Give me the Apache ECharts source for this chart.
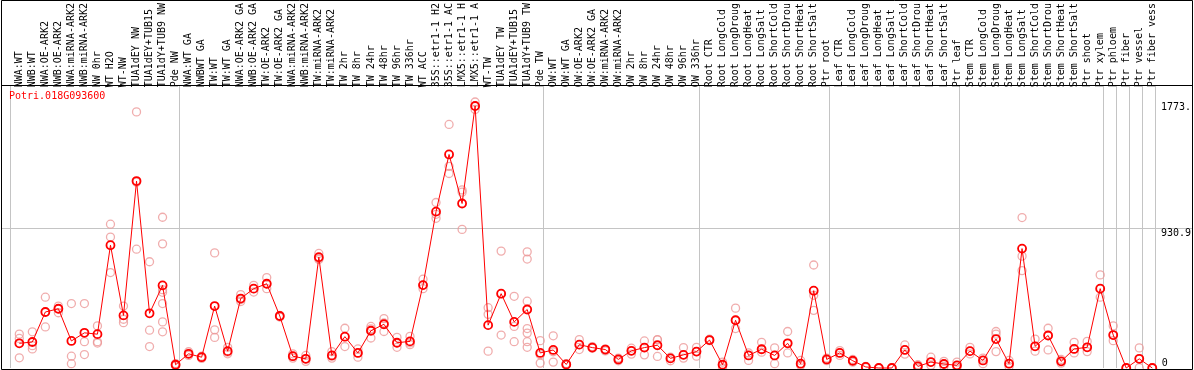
<!DOCTYPE html>
<html><head><meta charset="utf-8">
<script src="https://cdn.jsdelivr.net/npm/echarts@6/dist/echarts.min.js"></script>
<style>html,body{margin:0;padding:0;background:#fff}#c{width:1194px;height:370px}</style>
</head><body><div id="c"></div><script>
const categories = [
 'NWA:WT','NWB:WT','NWA:OE-ARK2','NWB:OE-ARK2','NWA:miRNA-ARK2','NWB:miRNA-ARK2','NW 0hr','WT H2O','WT-NW','TUA1dEY NW','TUA1dEY+TUB15','TUA1dY+TUB9 NW','Pde NW',
 'NWA:WT GA','NWBWT GA','TW:WT','TW:WT GA','NWA:OE-ARK2 GA','NWB:OE-ARK2 GA','TW:OE-ARK2','TW:OE-ARK2 GA','NWA:miRNA-ARK2','NWB:miRNA-ARK2','TW:miRNA-ARK2','TW:miRNA-ARK2','TW 2hr','TW 8hr','TW 24hr','TW 48hr','TW 96hr','TW 336hr','WT ACC','35S::etr1-1 H2','35S::etr1-1 AC','LMX5::etr1-1 H','LMX5::etr1-1 A','WT-TW','TUA1dEY TW','TUA1dEY+TUB15','TUA1dY+TUB9 TW','Pde TW',
 'OW:WT','OW:WT GA','OW:OE-ARK2','OW:OE-ARK2 GA','OW:miRNA-ARK2','OW:miRNA-ARK2','OW 2hr','OW 8hr','OW 24hr','OW 48hr','OW 96hr','OW 336hr',
 'Root CTR','Root LongCold','Root LongDroug','Root LongHeat','Root LongSalt','Root ShortCold','Root ShortDrou','Root ShortHeat','Root ShortSalt','Ptr root',
 'Leaf CTR','Leaf LongCold','Leaf LongDroug','Leaf LongHeat','Leaf LongSalt','Leaf ShortCold','Leaf ShortDrou','Leaf ShortHeat','Leaf ShortSalt','Ptr leaf',
 'Stem CTR','Stem LongCold','Stem LongDroug','Stem LongHeat','Stem LongSalt','Stem ShortCold','Stem ShortDrou','Stem ShortHeat','Stem ShortSalt','Ptr shoot','Ptr xylem',
 'Ptr phloem','Ptr fiber','Ptr vessel','Ptr fiber vess'
];
const means = [
 167,176,379,401,183,238,229,831,356,1265,370,559,22,
 96,73,419,114,470,537,570,352,80,62,750,85,212,102,252,296,171,180,561,1058,1445,1113,1773,290,503,312,396,102,
 122,24,158,138,125,58,116,138,154,65,89,111,
 189,22,323,85,127,85,167,29,523,58,
 102,49,7,0,0,122,11,40,27,18,
 114,51,196,29,808,147,220,45,129,140,537,
 223,0,62,0
];
const replicates = [
 [229,200,69],[245,151,129],[479,379,278],[419,401,374],[436,80,29],[436,178,91],[285,178,169],[973,886,646],[419,330,307],[1733,804,1258],[719,256,145],[1020,840,530,512,436,312,245],[30,22,15],
 [110,96,85],[80,73,65],[779,258,207],[140,107,96],[497,463,450],[559,537,514],[612,570,537],[356,352,345],[96,80,67],[85,62,45],[775,742,735],[111,80,67],[269,212,145],[129,102,73],[281,265,203],[334,305,247],[207,171,140],[214,170,158],[601,561,537],[1120,1040,1013],[1648,1365,1316],[1205,1190,938],[1800,1773,1750],[408,363,114],[791,503,223],[485,281,178],[786,737,452,267,236,178,140],[185,90,33],
 [218,110,40],[30,24,20],[192,158,125],[145,138,134],[129,125,116],[67,58,49],[134,116,94],[183,138,89],[192,190,78],[73,65,49],[138,89,67],[140,111,80],
 [195,189,185],[40,22,0],[405,323,267],[102,85,51],[174,127,107],[136,85,29],[247,167,102],[51,29,18],[697,492,390],[67,58,50],
 [118,102,85],[58,49,40],[10,7,3],[0,0,0],[0,0,0],[156,122,94],[22,11,0],[73,40,18],[45,27,10],[40,18,5],
 [140,114,95],[67,51,29],[247,229,111],[51,29,10],[1018,757,659],[196,147,114],[269,220,122],[58,45,33],[174,129,102],[180,140,111],[630,537,479],
 [285,223,185],[0,0,0],[136,62,2],[0,0,0]
];
const groupStarts = [0,13,41,53,63,73,84,85,86,87];
const yTickValues = [930.9, 1773];
const yTickLabels = ['930.9', '1773.'];
const yZeroValues = [0];
const yZeroLabels = ['0'];
const gridValues = [930.9];
const geneId = 'Potri.018G093600';
const yMax = 1886;

const font = 'DejaVu Sans Mono';
const repData = [];
replicates.forEach((arr, i) => arr.forEach(v => repData.push([i, v])));
const TOP = 85, BOTTOM = 2;
const chart = echarts.init(document.getElementById('c'), null, {renderer: 'canvas'});
chart.setOption({
  animation: false,
  backgroundColor: '#fff',
  title: {text: geneId, left: 9, top: 91, padding: 0,
    textStyle: {color: '#ff0000', fontFamily: font, fontSize: 10, fontWeight: 'normal'}},
  grid: [
    {left: 12.8, width: 1146, top: TOP, bottom: BOTTOM},
    {left: 10, width: 1146, top: TOP, bottom: BOTTOM},
    {left: 1, right: 1, top: TOP, bottom: BOTTOM}
  ],
  xAxis: [
    {type: 'category', gridIndex: 0, position: 'top', data: categories, boundaryGap: true,
      axisLine: {show: false}, axisTick: {show: false}, splitLine: {show: false},
      axisLabel: {interval: 0, rotate: 90, margin: 2, color: '#000', fontFamily: font, fontSize: 10}},
    {type: 'category', gridIndex: 1, data: categories, boundaryGap: true,
      axisLine: {show: false}, axisTick: {show: false}, axisLabel: {show: false},
      splitLine: {show: true, interval: (i) => groupStarts.includes(i), lineStyle: {color: '#c4c4c4', width: 1}}},
    {type: 'value', gridIndex: 2, min: 0, max: 1, show: false}
  ],
  yAxis: [
    {type: 'value', gridIndex: 0, min: 0, max: yMax, position: 'right',
      axisLine: {show: false}, axisTick: {show: false}, splitLine: {show: false},
      axisLabel: {customValues: yZeroValues, margin: 3, verticalAlign: 'bottom', color: '#000', fontFamily: font, fontSize: 10,
        formatter: v => yZeroLabels[yZeroValues.indexOf(v)] ?? ''}},
    {type: 'value', gridIndex: 1, min: 0, max: yMax, position: 'right',
      axisLine: {show: false}, axisTick: {show: false}, splitLine: {show: false},
      axisLabel: {customValues: yTickValues, margin: 6, verticalAlign: 'top', color: '#000', fontFamily: font, fontSize: 10,
        formatter: v => yTickLabels[yTickValues.indexOf(v)] ?? ''}},
    {type: 'value', gridIndex: 2, min: 0, max: yMax,
      axisLine: {show: false}, axisTick: {show: false, customValues: gridValues}, axisLabel: {show: false},
      splitLine: {show: true, lineStyle: {color: '#c4c4c4', width: 1}}}
  ],
  graphic: [
    {type: 'rect', silent: true, z: 100, shape: {x: 1.5, y: 0.5, width: 1191, height: 369},
      style: {fill: null, stroke: '#000', lineWidth: 1}},
    {type: 'line', silent: true, z: 100, shape: {x1: 1, y1: 85.5, x2: 1193, y2: 85.5},
      style: {stroke: '#000', lineWidth: 1}}
  ],
  series: [
    {type: 'scatter', xAxisIndex: 0, yAxisIndex: 0, data: repData, symbol: 'circle', symbolSize: 8, clip: false,
      itemStyle: {color: 'rgba(0,0,0,0)', borderColor: '#ec9898', borderWidth: 1.3}, z: 2},
    {type: 'line', xAxisIndex: 0, yAxisIndex: 0, data: means, symbol: 'circle', symbolSize: 8, clip: false,
      showAllSymbol: true,
      lineStyle: {color: '#ff0000', width: 1},
      itemStyle: {color: 'rgba(0,0,0,0)', borderColor: '#ff0000', borderWidth: 1.8}, z: 3}
  ]
});
</script></body></html>
